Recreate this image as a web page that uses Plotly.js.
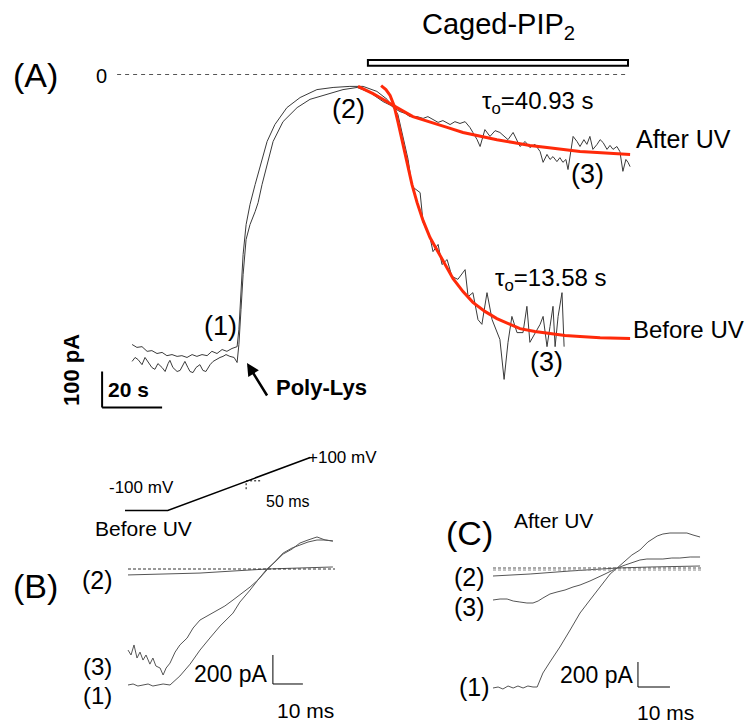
<!DOCTYPE html>
<html><head><meta charset="utf-8">
<script src="https://cdn.plot.ly/plotly-3.0.1.min.js"></script>
<style>html,body{margin:0;padding:0;background:#fff}</style>
</head><body><div id="chart" style="width:752px;height:723px"></div>
<script>
// ---------- Panel A: whole-cell current (s, pA) ----------
const aAfterT = [10.7,12.3,14,15.7,17.3,19,20.7,22.3,24,25.7,27.3,29,30.7,32.3,34,35.7,37.3,39,40.7,42.3,44,45.7,46.3,47,47.7,48.7,50,51.7,53.3,55.7,58.3,62.3,66.7,72.3,77.7,83.3,87.7,92.3,95.7,97.7,100,101.7,103.3,105.7,107.7,109.3,111,112.7,114.3,116.7,118.3,120,121.7,123.3,124.3,125.7,126.7,128.3,130,131.7,133.3,135,136,137.7,139,140,141.7,143.3,145,146.7,147.7,149,150,151,152.3,153.3,154.3,155.3,156,157,157.7,159,160,161.3,162.3,163.3,164.3,165.7,166.7,167.7,169,170,171,172.3,173.3,174.3,175.3,176,176.7];
const aAfterI = [-750,-758,-756,-769,-767,-775,-772,-781,-778,-783,-781,-786,-778,-783,-778,-781,-769,-775,-764,-769,-761,-756,-708,-597,-500,-417,-361,-306,-256,-186,-139,-92,-64,-42,-36,-33,-33,-47,-69,-92,-103,-108,-117,-117,-122,-117,-125,-133,-128,-139,-131,-136,-131,-147,-161,-181,-200,-153,-172,-156,-161,-175,-181,-161,-181,-200,-186,-203,-194,-214,-244,-222,-236,-228,-242,-231,-244,-236,-264,-208,-172,-186,-200,-181,-194,-172,-208,-194,-181,-189,-208,-197,-208,-200,-214,-269,-236,-244,-256];
const aBeforeT = [10.7,11.7,12.7,14,15,16,17.3,18.3,19.3,20.7,21.7,22.7,23.3,24.3,25.7,26.7,27.7,28.3,29.3,30,31,32,33.3,34.3,35.3,36.7,37.7,38.7,40,41,42,43.3,44.7,45.7,46.3,47,47.7,48.7,50,51.7,52.7,54,55.7,57.7,61,65.7,70,75.7,81,85.7,90,94.3,97.7,99.3,101,102.7,104,105.3,106.7,107.7,109,110,111,112.7,114,115.7,117.3,119.3,121.7,122.7,124.3,126,127.3,129,130.7,132.3,133.3,134.7,136,137.3,139,141,142.3,143.3,145,146.7,147.7,149,150,151,151.7,152.7,154,154.7];
const aBeforeI = [-797,-786,-792,-806,-786,-797,-814,-819,-803,-814,-825,-803,-794,-814,-825,-822,-808,-797,-814,-825,-828,-814,-806,-822,-825,-806,-797,-792,-786,-783,-778,-783,-786,-800,-750,-653,-556,-458,-417,-381,-356,-306,-250,-186,-131,-92,-69,-56,-42,-36,-50,-75,-89,-111,-175,-236,-311,-319,-328,-411,-436,-453,-492,-472,-528,-514,-561,-569,-542,-617,-606,-681,-694,-606,-681,-717,-736,-847,-744,-672,-717,-717,-644,-744,-717,-694,-672,-756,-700,-644,-756,-672,-606,-756];
// exponential fits
const fitAfterT = [86,88.3,91,93.3,95.7,99,104.3,110,115.7,121,126.7,132.3,137.7,143.3,149,154.3,160,165.7,171,176.7];
const fitAfterI = [-33,-42,-53,-64,-75,-92,-117,-133,-147,-161,-172,-181,-189,-197,-203,-208,-214,-217,-219,-222];
const fitBeforeT = [93.7,95.3,96.7,98,99.3,101,102.3,104,105.7,107.7,110,112.7,115.3,117.7,121,124.3,128.3,132.3,136.7,140,145,149,155,160,166.7,176.7];
const fitBeforeI = [-31,-42,-58,-86,-131,-194,-250,-306,-356,-406,-453,-494,-533,-567,-603,-633,-658,-678,-694,-706,-714,-719,-725,-728,-731,-733];

// ---------- Voltage ramp protocol (ms, mV) ----------
const rampT = [0,15,65];
const rampV = [-100,-100,100];

// ---------- Panel B: Before UV ramp currents (ms, pA) ----------
const b1T = [0,1.7,3.3,5,6.7,8.3,10,11.7,14,17.3,20.7,24,27.3,30.7,35,37.3,40.7,43.3,46.3,49,51.7,54.7,57.3,60,63,65.7,68.3];
const b1I = [-800,-793,-807,-800,-793,-807,-800,-793,-800,-738,-656,-559,-476,-393,-304,-228,-145,-76,-7,55,110,145,166,186,200,200,193];
const b3T = [0,1,2,3,4,5,6,7.3,8.3,9.3,10.7,11.7,12.7,14,15.7,17.3,19.7,21.7,24,26.3,29.7,32.3,35,37.7,40.7,43.3,46.3,49,51.7,54.7,57.3,60,63,65.7,68.3];
const b3I = [-559,-593,-524,-614,-573,-628,-593,-656,-614,-669,-683,-731,-683,-649,-573,-524,-476,-407,-352,-324,-283,-255,-214,-172,-124,-76,0,48,103,138,179,200,221,200,193];
const b2T = [0,10.7,24,35,46.3,57.3,68.3];
const b2I = [-41,-34,-28,-14,0,7,14];

// ---------- Panel C: After UV ramp currents (ms, pA) ----------
const c1T = [0,1.6,3.1,4.7,6.3,7.8,9.4,10.9,12.5,13.8,14.7,15.6,17.8,20.9,24.1,27.2,30.3,33.4,36.6,38.8,41.3,43.4,45.9,48.4,51.3,53.1,55.3,58.4,60.6,62.5,64.7];
const c1I = [-960,-952,-968,-944,-960,-944,-960,-944,-952,-952,-896,-840,-752,-632,-496,-360,-256,-152,-48,0,56,104,144,208,256,272,280,280,280,264,248];
const c3T = [0,2.2,4.4,6.3,8.4,10.6,12.5,14.1,15.6,17.8,20,22.5,25,27.2,30.3,32.5,35,36.9,38.8,41.3,43.8,45.9,48.1,50.6,53.1,55.9,58.4,61.6,64.7];
const c3I = [-256,-248,-248,-264,-272,-280,-280,-264,-240,-208,-192,-176,-152,-136,-104,-80,-48,-24,0,24,48,64,72,72,72,80,80,88,88];
const c2T = [0,11.6,24.1,38.8,49.1,64.7];
const c2I = [-64,-48,-24,0,8,16];

// ---------- layout helpers ----------
const W = 752, H = 723;
const FONT = 'Liberation Sans, Arial, sans-serif';
const PX = p => p / W, PY = p => 1 - p / H;
function axes(pxL, pxR, pyT, pyB, x0, sx, y0, sy, id) {
  const xa = {domain: [pxL / W, pxR / W], range: [(pxL - x0) / sx, (pxR - x0) / sx], visible: false, fixedrange: true, anchor: 'y' + id};
  const ya = {domain: [1 - pyB / H, 1 - pyT / H], range: [(y0 - pyB) / sy, (y0 - pyT) / sy], visible: false, fixedrange: true, anchor: 'x' + id};
  return [xa, ya];
}
const [xA, yA] = axes(100, 650, 40, 420, 100, 3.0, 74.5, 0.36, '');
const [xV, yV] = axes(110, 330, 440, 520, 125, 2.85, 510.5 - 100 * 0.265, 0.265, '4');
const [xB, yB] = axes(110, 340, 520, 700, 128, 3.0, 569, 0.145, '2');
const [xC, yC] = axes(480, 720, 520, 700, 493, 3.2, 568, 0.125, '3');

const gray = '#3a3a3a', red = '#ff2a0a';
const ln = (x, y, xa, ya, color, width) => ({x, y, xaxis: xa, yaxis: ya, type: 'scatter', mode: 'lines', line: {color, width}, hoverinfo: 'skip', showlegend: false});

const data = [
  ln(aAfterT, aAfterI, 'x', 'y', gray, 1),
  ln(aBeforeT, aBeforeI, 'x', 'y', gray, 1),
  ln(fitAfterT, fitAfterI, 'x', 'y', red, 3),
  ln(fitBeforeT, fitBeforeI, 'x', 'y', red, 3),
  ln(rampT, rampV, 'x4', 'y4', '#000', 1.5),
  ln(b2T, b2I, 'x2', 'y2', '#555', 1),
  ln(b1T, b1I, 'x2', 'y2', '#555', 1),
  ln(b3T, b3I, 'x2', 'y2', '#555', 1),
  ln(c2T, c2I, 'x3', 'y3', '#555', 1),
  ln(c3T, c3I, 'x3', 'y3', '#555', 1),
  ln(c1T, c1I, 'x3', 'y3', '#555', 1)
];

const shapes = [
  // zero line A
  {type: 'line', xref: 'x', yref: 'y', x0: 5.7, x1: 176, y0: 0, y1: 0, line: {color: '#555', width: 1, dash: '4px,4px'}},
  // Caged-PIP2 application bar
  {type: 'rect', xref: 'x', yref: 'y', x0: 89.3, x1: 176, y0: 24, y1: 40, line: {color: '#000', width: 2}, fillcolor: '#fff'},
  // scale bars A: 100 pA, 20 s
  {type: 'line', xref: 'x', yref: 'y', x0: 0.7, x1: 0.7, y0: -925, y1: -825, line: {color: '#000', width: 2}},
  {type: 'line', xref: 'x', yref: 'y', x0: 0.7, x1: 20.7, y0: -925, y1: -925, line: {color: '#000', width: 2}},
  // zero lines B, C
  {type: 'line', xref: 'x2', yref: 'y2', x0: 0, x1: 69, y0: 0, y1: 0, line: {color: '#333', width: 1, dash: '3px,2px'}},
  {type: 'line', xref: 'x3', yref: 'y3', x0: 0, x1: 65, y0: 0, y1: 0, line: {color: '#555', width: 1, dash: '3px,2px'}},
  {type: 'line', xref: 'x3', yref: 'y3', x0: 0, x1: 65, y0: -16, y1: -16, line: {color: '#888', width: 1, dash: '3px,2px'}},
  // scale bars B (200 pA, 10 ms)
  {type: 'line', xref: 'x2', yref: 'y2', x0: 48.3, x1: 48.3, y0: -793, y1: -593, line: {color: '#000', width: 1}},
  {type: 'line', xref: 'x2', yref: 'y2', x0: 48.3, x1: 58.3, y0: -793, y1: -793, line: {color: '#000', width: 1}},
  // scale bars C
  {type: 'line', xref: 'x3', yref: 'y3', x0: 45.3, x1: 45.3, y0: -952, y1: -752, line: {color: '#000', width: 1}},
  {type: 'line', xref: 'x3', yref: 'y3', x0: 45.3, x1: 55.3, y0: -952, y1: -952, line: {color: '#000', width: 1}},
  // tiny dashed marks on ramp
  {type: 'line', xref: 'x4', yref: 'y4', x0: 42.5, x1: 47.7, y0: 12, y1: 12, line: {color: '#000', width: 1, dash: '2px,2px'}},
  {type: 'line', xref: 'x4', yref: 'y4', x0: 42.5, x1: 42.5, y0: 3, y1: -24, line: {color: '#000', width: 1, dash: '2px,2px'}}
];

function t(text, px, py, size, opts) {
  return Object.assign({text, x: PX(px), y: PY(py), xref: 'paper', yref: 'paper', xanchor: 'center', yanchor: 'middle', showarrow: false, font: {family: FONT, size, color: '#000'}}, opts || {});
}
const annotations = [
  t('(A)', 35, 75, 34),
  t('0', 101, 76, 20),
  t('Caged-PIP<sub>2</sub>', 498, 26, 29),
  t('(2)', 348, 109, 27),
  t('τ<sub>o</sub>=40.93 s', 538, 103, 24),
  t('After UV', 683, 139, 25),
  t('(3)', 587, 174, 27),
  t('τ<sub>o</sub>=13.58 s', 551, 280, 24),
  t('Before UV', 688, 330, 24),
  t('(3)', 546, 362, 27),
  t('(1)', 220, 326, 27),
  t('<b>Poly-Lys</b>', 321, 387, 22),
  t('<b>100 pA</b>', 72, 370, 22, {textangle: -90}),
  t('<b>20 s</b>', 128, 389, 21),
  {text: '', x: PX(247), y: PY(363), xref: 'paper', yref: 'paper', showarrow: true, ax: 21, ay: 34, arrowhead: 2, arrowsize: 1, arrowwidth: 2.5, arrowcolor: '#000', standoff: 0},
  t('-100 mV', 141, 487, 17),
  t('+100 mV', 342, 457, 17),
  t('50 ms', 288, 501, 16),
  t('Before UV', 143, 528, 21),
  t('(B)', 35, 586, 34),
  t('(2)', 97, 580, 25),
  t('(3)', 97, 666, 24),
  t('(1)', 97, 695, 24),
  t('200 pA', 231, 674, 23),
  t('10 ms', 305, 710, 21),
  t('(C)', 469, 533, 34),
  t('After UV', 553, 520, 21),
  t('(2)', 469, 577, 25),
  t('(3)', 469, 607, 25),
  t('(1)', 474, 687, 25),
  t('200 pA', 597, 675, 23),
  t('10 ms', 665, 712, 21)
];

const layout = {
  width: W, height: H, margin: {l: 0, r: 0, t: 0, b: 0},
  paper_bgcolor: '#fff', plot_bgcolor: 'rgba(0,0,0,0)', showlegend: false,
  xaxis: xA, yaxis: yA, xaxis2: xB, yaxis2: yB, xaxis3: xC, yaxis3: yC, xaxis4: xV, yaxis4: yV,
  shapes, annotations, font: {family: FONT}
};
Plotly.newPlot('chart', data, layout, {staticPlot: true, displayModeBar: false});
</script></body></html>
